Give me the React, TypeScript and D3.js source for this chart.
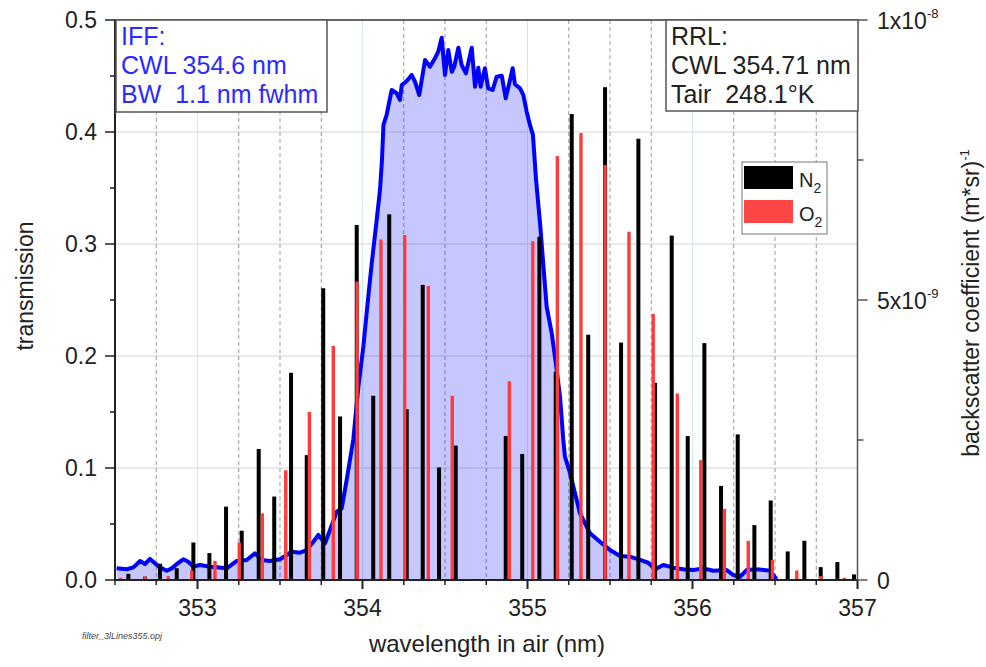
import React from "react";
import * as d3 from "d3";

// ---------- data ----------
const filterWavelength = [
  352.51, 352.571, 352.611, 352.652, 352.682, 352.712, 352.742, 352.773, 352.813, 352.844,
  352.884, 352.914, 352.944, 352.975, 353.015, 353.076, 353.116, 353.177, 353.238, 353.298,
  353.348, 353.389, 353.439, 353.5, 353.541, 353.571, 353.621, 353.662, 353.702, 353.732,
  353.773, 353.803, 353.844, 353.874, 353.904, 353.944, 353.975, 354.005, 354.035, 354.056,
  354.086, 354.106, 354.118, 354.127, 354.146, 354.177, 354.207, 354.227, 354.238, 354.268,
  354.298, 354.318, 354.344, 354.379, 354.409, 354.439, 354.459, 354.48, 354.5, 354.52,
  354.541, 354.556, 354.581, 354.601, 354.627, 354.662, 354.682, 354.702, 354.716, 354.742,
  354.762, 354.789, 354.813, 354.844, 354.868, 354.894, 354.91, 354.924, 354.955, 354.975,
  354.995, 355.015, 355.033, 355.052, 355.076, 355.116, 355.147, 355.177, 355.197, 355.217,
  355.227, 355.258, 355.278, 355.318, 355.379, 355.439, 355.5, 355.561, 355.621, 355.682,
  355.732, 355.773, 355.823, 355.884, 355.944, 356.005, 356.065, 356.126, 356.207, 356.247,
  356.288, 356.328, 356.389, 356.47, 356.51,
];
const filterTransmission = [
  0.0104, 0.0096, 0.0113, 0.017, 0.0143, 0.0188, 0.0149, 0.0113, 0.0083, 0.0104,
  0.0154, 0.0185, 0.0163, 0.0119, 0.0134, 0.0119, 0.0113, 0.0104, 0.017, 0.0179,
  0.0238, 0.0179, 0.017, 0.0185, 0.0223, 0.0253, 0.0244, 0.0268, 0.0342, 0.0402,
  0.0328, 0.0446, 0.061, 0.064, 0.0893, 0.125, 0.1726, 0.2083, 0.253, 0.2828,
  0.3214, 0.3482, 0.375, 0.4063, 0.4152, 0.4375, 0.4346, 0.4286, 0.442, 0.4455,
  0.4509, 0.4449, 0.433, 0.4643, 0.4583, 0.4658, 0.4717, 0.4842, 0.4509, 0.4732,
  0.4538, 0.4583, 0.4753, 0.4598, 0.4524, 0.4753, 0.4404, 0.4574, 0.4404, 0.4569,
  0.439, 0.4375, 0.4494, 0.4503, 0.4301, 0.4464, 0.4569, 0.4426, 0.439, 0.433,
  0.4181, 0.4063, 0.3975, 0.3571, 0.3185, 0.244, 0.2203, 0.1875, 0.1637, 0.125,
  0.1101, 0.0953, 0.0833, 0.0596, 0.0417, 0.0342, 0.0268, 0.0214, 0.0208, 0.0179,
  0.0154, 0.0096, 0.0134, 0.011, 0.0096, 0.0089, 0.0104, 0.0083, 0.0089, 0.0045,
  0.0029, 0.0089, 0.0096, 0.0083, 0.0006,
];

// N2 rotational Raman lines, backscatter in units of 1e-9 (m*sr)^-1
const n2Wavelength = [
  352.581, 352.682, 352.773, 352.874, 352.975, 353.072, 353.173, 353.268, 353.371, 353.465,
  353.567, 353.662, 353.762, 353.864, 353.965, 354.065, 354.162, 354.268, 354.365, 354.464,
  354.565, 354.868, 354.968, 355.072, 355.171, 355.268, 355.368, 355.47, 355.567, 355.672,
  355.773, 355.874, 355.971, 356.072, 356.173, 356.274, 356.375, 356.474, 356.577, 356.678,
  356.777, 356.878, 356.979,
];
const n2Backscatter = [
  0.11, 0.06, 0.29, 0.21, 0.67, 0.48, 1.31, 0.88, 2.34, 1.49,
  3.7, 2.23, 5.21, 2.92, 6.34, 3.29, 6.53, 3.05, 5.27, 2.01,
  2.4, 2.57, 2.25, 6.13, 3.72, 8.32, 4.38, 8.8, 4.24, 7.88,
  3.52, 6.15, 2.57, 4.23, 1.68, 2.6, 0.98, 1.42, 0.51, 0.7,
  0.23, 0.32, 0.1,
];
// O2 rotational Raman lines
const o2Wavelength = [
  352.535, 352.682, 352.823, 352.965, 353.106, 353.253, 353.393, 353.535, 353.678, 353.823,
  353.967, 354.112, 354.256, 354.399, 354.544, 354.89, 355.032, 355.181, 355.324, 355.47,
  355.615, 355.762, 355.908, 356.05, 356.193, 356.338, 356.484, 356.632, 356.777, 356.92,
];
const o2Backscatter = [
  0.04, 0.06, 0.07, 0.17, 0.34, 0.67, 1.19, 1.96, 3.0, 4.18,
  5.33, 6.08, 6.16, 5.25, 3.29, 3.55, 6.05, 7.57, 7.98, 7.41,
  6.22, 4.75, 3.33, 2.14, 1.27, 0.7, 0.36, 0.17, 0.07, 0.04,
];

const xTicks = [353, 354, 355, 356, 357];
const xMinorTicks = [352.5, 352.75, 353.25, 353.5, 353.75, 354.25, 354.5, 354.75, 355.25, 355.5, 355.75, 356.25, 356.5, 356.75];
const yTicks = [0, 0.1, 0.2, 0.3, 0.4, 0.5];
const yTickLabels = ["0.0", "0.1", "0.2", "0.3", "0.4", "0.5"];
const yMinorTicks = [0.05, 0.15, 0.25, 0.35, 0.45];
const rTicks = [0, 5, 10];
const rTickMantissa = ["0", "5x10", "1x10"];
const rTickExponent = ["", "-9", "-8"];
const rMinorTicks = [2.5, 7.5];

const iffLines = ["IFF:", "CWL 354.6 nm", "BW  1.1 nm fwhm"];
const rrlLines = ["RRL:", "CWL 354.71 nm", "Tair  248.1°K"];

const FONT = "'Liberation Sans', Arial, sans-serif";

export default function App() {
  const W = 986, H = 667;
  const x = d3.scaleLinear().domain([352.5, 357]).range([115, 857.5]);
  const y = d3.scaleLinear().domain([0, 0.5]).range([580, 20]);
  const yr = d3.scaleLinear().domain([0, 10]).range([580, 20]);

  const pts = filterWavelength.map((w, i) => [w, filterTransmission[i]] as [number, number]);
  const area = d3.area<[number, number]>().x(d => x(d[0])).y0(y(0)).y1(d => y(d[1]));
  const line = d3.line<[number, number]>().x(d => x(d[0])).y(d => y(d[1]));

  const x0 = x(352.5), x1 = x(357), yb = y(0), yt = y(0.5);

  return (
    <svg width={W} height={H} style={{ position: "absolute", left: 0, top: 0, background: "#fff" }} fontFamily={FONT}>
      <rect x={0} y={0} width={W} height={H} fill="#fff" />
      {/* grid */}
      {yTicks.slice(1, -1).map(t => (
        <line key={"hg" + t} x1={x0} x2={x1} y1={y(t)} y2={y(t)} stroke="#d4d4d4" strokeWidth={1} />
      ))}
      {xTicks.slice(0, -1).map(t => (
        <line key={"vg" + t} x1={x(t)} x2={x(t)} y1={yt} y2={yb} stroke="#cfe9ec" strokeWidth={1} />
      ))}
      {xMinorTicks.slice(1).map(t => (
        <line key={"vm" + t} x1={x(t)} x2={x(t)} y1={yt} y2={yb} stroke="#9a9a9a" strokeWidth={1} strokeDasharray="4,3" />
      ))}
      {/* filter curve */}
      <path d={area(pts) || ""} fill="#0000ff" fillOpacity={0.22} />
      <path d={line(pts) || ""} fill="none" stroke="#0000ff" strokeWidth={4} strokeLinejoin="round" />
      {/* bars */}
      {n2Wavelength.map((w, i) => (
        <rect key={"n" + i} x={x(w) - 2} width={4} y={yr(n2Backscatter[i])} height={yb - yr(n2Backscatter[i])} fill="#000" />
      ))}
      {o2Wavelength.map((w, i) => (
        <rect key={"o" + i} x={x(w) - 1.7} width={3.4} y={yr(o2Backscatter[i])} height={yb - yr(o2Backscatter[i])} fill="#ff3b3b" />
      ))}
      {/* frame */}
      <line x1={x0} x2={x1} y1={yt} y2={yt} stroke="#333" strokeWidth={1.5} />
      <line x1={x0} x2={x1} y1={yb} y2={yb} stroke="#222" strokeWidth={2} />
      <line x1={x0} x2={x0} y1={yt} y2={yb} stroke="#222" strokeWidth={2} />
      <line x1={x1} x2={x1} y1={yt} y2={yb} stroke="#555" strokeWidth={1.5} />
      {/* bottom axis */}
      {xTicks.map(t => (
        <g key={"xt" + t}>
          <line x1={x(t)} x2={x(t)} y1={yb} y2={yb + 9} stroke="#222" strokeWidth={2} />
          <text x={x(t)} y={616} textAnchor="middle" fontSize={23} fill="#222">{t}</text>
        </g>
      ))}
      {xMinorTicks.map(t => (
        <line key={"xm" + t} x1={x(t)} x2={x(t)} y1={yb} y2={yb + 5} stroke="#222" strokeWidth={1.5} />
      ))}
      {/* left axis */}
      {yTicks.map((t, i) => (
        <g key={"yt" + t}>
          <line x1={x0 - 10} x2={x0} y1={y(t)} y2={y(t)} stroke="#222" strokeWidth={1.5} />
          <text x={97} y={y(t) + 8} textAnchor="end" fontSize={23} fill="#222">{yTickLabels[i]}</text>
        </g>
      ))}
      {yMinorTicks.map(t => (
        <line key={"ym" + t} x1={x0 - 5} x2={x0} y1={y(t)} y2={y(t)} stroke="#222" strokeWidth={1.5} />
      ))}
      {/* right axis */}
      {rTicks.map((t, i) => (
        <g key={"rt" + t}>
          <line x1={x1} x2={x1 + 10} y1={yr(t)} y2={yr(t)} stroke="#555" strokeWidth={1.5} />
          <text x={877} y={yr(t) + 9} fontSize={23} fill="#222">
            {rTickMantissa[i]}
            {rTickExponent[i] && <tspan dy={-11} fontSize={13}>{rTickExponent[i]}</tspan>}
          </text>
        </g>
      ))}
      {rMinorTicks.map(t => (
        <line key={"rm" + t} x1={x1} x2={x1 + 6} y1={yr(t)} y2={yr(t)} stroke="#555" strokeWidth={1.5} />
      ))}
      {/* axis titles */}
      <text transform="translate(33,286) rotate(-90)" textAnchor="middle" fontSize={23} fill="#222">transmission</text>
      <text x={487} y={652} textAnchor="middle" fontSize={24} fill="#222">wavelength in air (nm)</text>
      <text transform="translate(979,303) rotate(-90)" textAnchor="middle" fontSize={23} fill="#222">
        backscatter coefficient (m*sr)<tspan dy={-10} fontSize={13}>-1</tspan>
      </text>
      <text x={82} y={639} fontSize={9} fontStyle="italic" fill="#444">filter_3lLines355.opj</text>
      {/* IFF box */}
      <rect x={116} y={20} width={211} height={92} fill="#fff" stroke="#555" strokeWidth={1.5} />
      {iffLines.map((s, i) => (
        <text key={"iff" + i} x={121} y={45 + i * 28.8} fontSize={25} fill="#2b2bff" style={{ whiteSpace: "pre" }}>{s}</text>
      ))}
      {/* RRL box */}
      <rect x={666} y={20} width={192} height={91} fill="#fff" stroke="#555" strokeWidth={1.5} />
      {rrlLines.map((s, i) => (
        <text key={"rrl" + i} x={671} y={45 + i * 28.8} fontSize={25} fill="#222" style={{ whiteSpace: "pre" }}>{s}</text>
      ))}
      {/* legend */}
      <rect x={742} y={162} width={85} height={72} fill="#fff" stroke="#777" strokeWidth={1} />
      <rect x={744} y={166} width={49} height={23} fill="#000" />
      <rect x={744} y={200} width={49} height={23} fill="#ff4646" />
      <text x={799} y={187} fontSize={20} fill="#222">N<tspan dy={6} fontSize={14}>2</tspan></text>
      <text x={799} y={221} fontSize={20} fill="#222">O<tspan dy={6} fontSize={14}>2</tspan></text>
    </svg>
  );
}
